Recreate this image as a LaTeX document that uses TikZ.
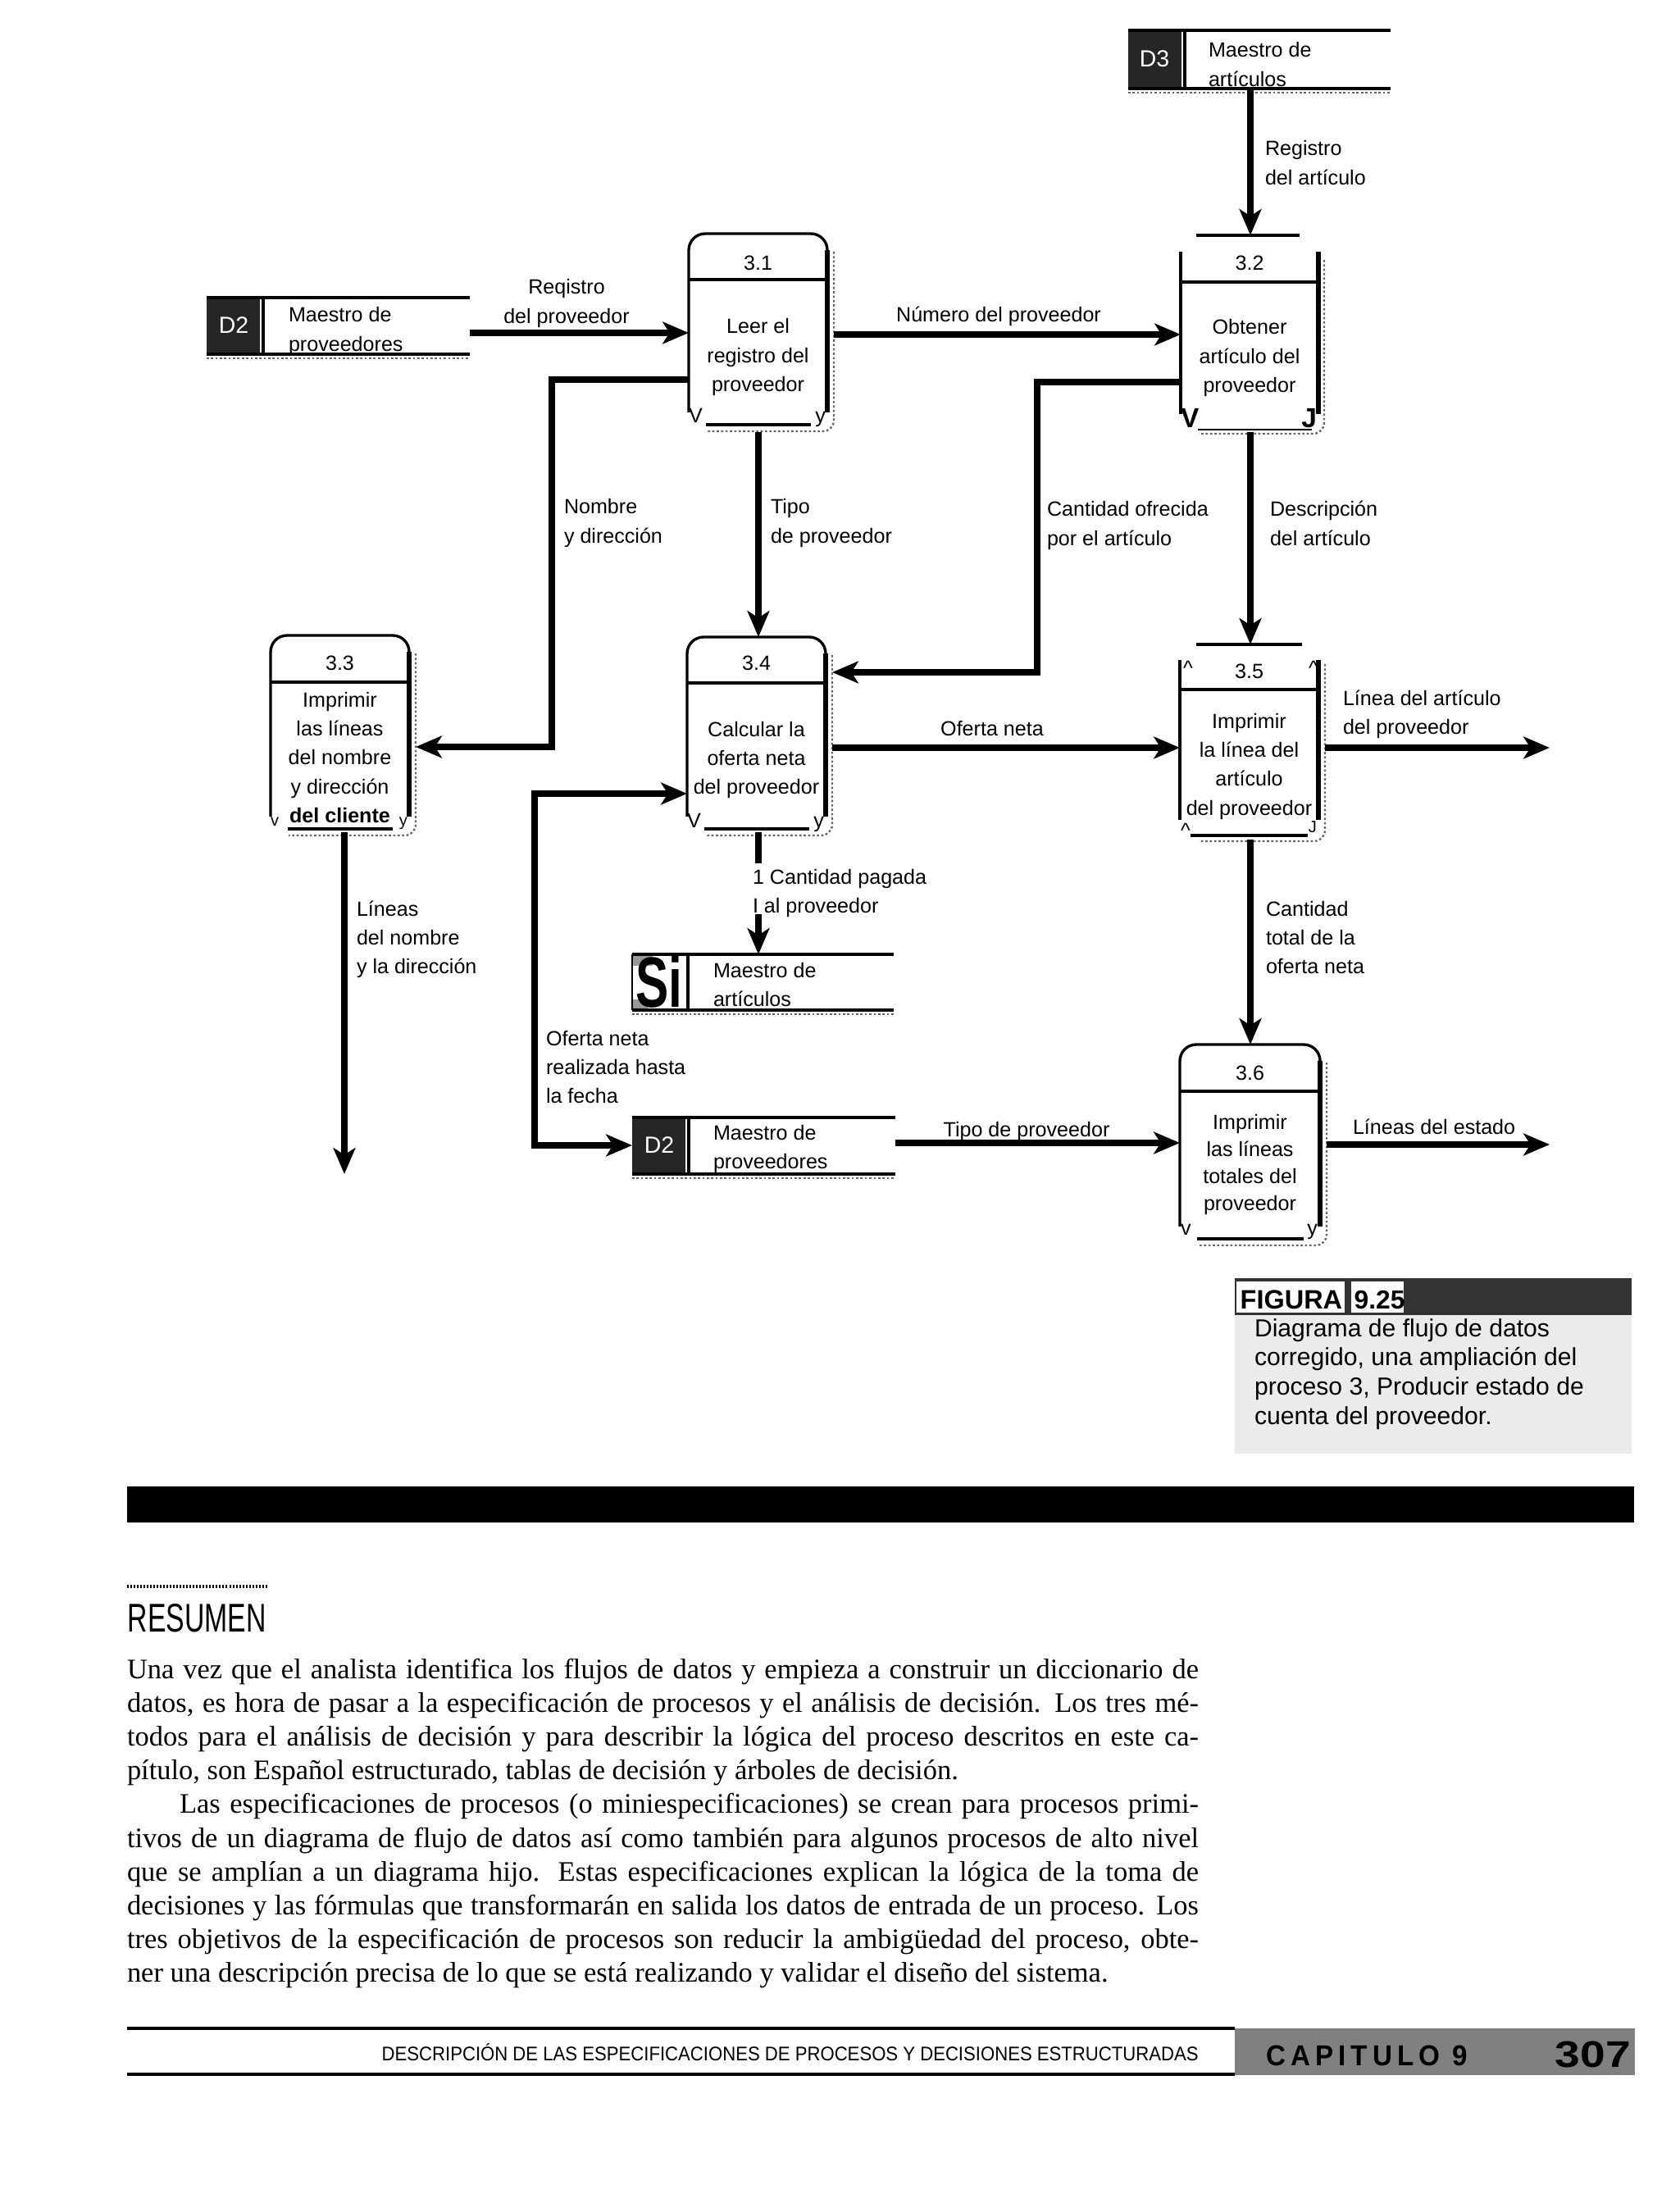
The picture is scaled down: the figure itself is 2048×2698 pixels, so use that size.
\documentclass[tikz,border=0pt]{standalone}
\usepackage{graphicx}
\usepackage{fontspec}
\setmainfont{Liberation Serif}
\setsansfont{Liberation Sans}
\newfontfamily\capsp[LetterSpace=18]{Liberation Sans}
\usetikzlibrary{arrows.meta,fit}
\newdimen\pxd \pxd=0.2988pt
\newcommand\LblL[1]{\vtop{\halign{##\hfil\cr#1\crcr}}}
\newcommand\LblC[1]{\vtop{\halign{\hfil##\hfil\cr#1\crcr}}}
\newcommand\rbox[5]{% L R T H B
  \draw[boxl, rounded corners=6pt] (#1,#5-15) -- (#1,#3) -- (#2,#3) -- (#2,#5-15);
  \draw[line width=1.7pt] (#2,#3+20) -- (#2,#5-15);
  \draw[boxl] (#1,#4) -- (#2,#4);
  \draw[boxl] (#1+21,#5) -- (#2-20,#5);
  \draw[shad, rounded corners=4pt] (#2+8,#3+22) -- (#2+8,#5+8) -- (#1+22,#5+8);}
\newcommand\dstore[4]{% L R T B
  \fill[black!85] (#1,#3) rectangle (#1+65,#4);
  \draw[line width=1.2pt] (#1,#3) -- (#2,#3);
  \draw[line width=1.2pt] (#1,#4) -- (#2,#4);
  \draw[line width=1.4pt] (#1+69,#3) -- (#1+69,#4);
  \draw[shad] (#1,#4+5) -- (#2,#4+5);}
\begin{document}
\begin{tikzpicture}[x=0.2988pt, y=-0.2988pt,
  flow/.style={line width=2.2pt, -{Stealth[length=9.5pt,width=8pt,inset=2.5pt]}},
  flowtwo/.style={line width=2.2pt, {Stealth[length=9.5pt,width=8pt,inset=2.5pt]}-{Stealth[length=9.5pt,width=8pt,inset=2.5pt]}},
  plainflow/.style={line width=2.2pt},
  boxl/.style={line width=1pt},
  shad/.style={line width=0.7pt, black!60, dash pattern=on 0.8pt off 0.8pt},
  lbl/.style={font=\fontsize{7.5}{10.6}\selectfont\sffamily, inner sep=0, outer sep=0},
  glyph/.style={font=\fontsize{7.5}{9}\selectfont\sffamily, inner sep=0, outer sep=0},
  reg/.style={inner sep=0, outer sep=0},
  body/.style={font=\fontsize{10.3}{12.3}\selectfont, inner sep=0, outer sep=0, anchor=base west}]
\useasboundingbox (0,0) rectangle (2048,2698);
\fill[white] (0,0) rectangle (2048,2698);

% ---------- helper coordinates ----------
\coordinate (v1525) at (1525,0);
\coordinate (v925) at (925,0);
\coordinate (v673) at (673,0);
\coordinate (v1265) at (1265,0);
\coordinate (v420) at (420,0);
\coordinate (v652) at (652,0);
\coordinate (h406) at (0,406);
\coordinate (h408) at (0,408);
\coordinate (h463) at (0,463);
\coordinate (h466) at (0,466);
\coordinate (h911) at (0,911);
\coordinate (h820) at (0,820);
\coordinate (h912) at (0,912);
\coordinate (h968) at (0,968);
\coordinate (h1053) at (0,1053);
\coordinate (h1115) at (0,1115);
\coordinate (h1397) at (0,1397);
\coordinate (h1394) at (0,1394);
\coordinate (h1396) at (0,1396);
\coordinate (out1) at (1890,912);
\coordinate (out2) at (1890,1396);
\coordinate (out3) at (420,1432);

% ---------- region nodes ----------
\node[reg, fit={(1376,37) (1696,108)}] (d3) {};
\node[reg, fit={(252,363) (573,432)}] (d2a) {};
\node[reg, fit={(771,1164) (1090,1232)}] (s1) {};
\node[reg, fit={(771,1363) (1092,1432)}] (d2b) {};
\node[reg, fit={(840,285) (1017,527)}] (p31) {};
\node[reg, fit={(1440,287) (1616,527)}] (p32) {};
\node[reg, fit={(330,775) (507,1015)}] (p33) {};
\node[reg, fit={(838,777) (1015,1015)}] (p34) {};
\node[reg, fit={(1439,786) (1616,1024)}] (p35) {};
\node[reg, fit={(1439,1274) (1618,1515)}] (p36) {};

% ---------- data stores ----------
\dstore{1376}{1696}{37}{108}
\node[font=\fontsize{8.5}{9}\selectfont\sffamily, text=white, inner sep=0] (d3id) at (1408,72) {D3};
\node[lbl, anchor=base west] (d3t) at (1474,70) {\LblL{Maestro de\cr artículos}};

\dstore{252}{573}{363}{432}
\node[font=\fontsize{8.5}{9}\selectfont\sffamily, text=white, inner sep=0] (d2aid) at (285,397) {D2};
\node[lbl, anchor=base west] (d2at) at (352,393) {\LblL{Maestro de\cr proveedores}};

\dstore{771}{1092}{1363}{1432}
\node[font=\fontsize{8.5}{9}\selectfont\sffamily, text=white, inner sep=0] (d2bid) at (804,1397) {D2};
\node[lbl, anchor=base west] (d2bt) at (870,1390) {\LblL{Maestro de\cr proveedores}};

% store "Si"
\fill[black!40] (771,1166) rectangle (796,1178);
\fill[black!40] (771,1219) rectangle (790,1230);
\draw[line width=1.2pt] (771,1164) -- (1090,1164);
\draw[line width=1.2pt] (771,1232) -- (1090,1232);
\draw[line width=0.8pt] (771,1164) -- (771,1232);
\draw[line width=1.4pt] (839,1164) -- (839,1232);
\draw[shad] (771,1237) -- (1090,1237);
\node[inner sep=0, anchor=south west] (s1id) at (775,1230) {\resizebox{57\pxd}{63\pxd}{\sffamily\bfseries Si}};
\node[lbl, anchor=base west] (s1t) at (870,1192) {\LblL{Maestro de\cr artículos}};

% ---------- process boxes ----------
\rbox{840}{1009}{285}{341}{518}
\node[lbl, anchor=base] (n31) at (924.5,330) {3.1};
\node[lbl, anchor=base] (t31) at (924.5,407) {\LblC{Leer el\cr registro del\cr proveedor}};
\node[glyph, anchor=base west] (g31a) at (840,516) {V};
\node[glyph, anchor=base east] (g31b) at (1007,516) {y};

% 3.2 (open top)
\draw[boxl] (1459,287) -- (1585,287);
\draw[boxl] (1440,307) -- (1440,505);
\draw[line width=1.8pt] (1608,307) -- (1608,505);
\draw[boxl] (1440,344) -- (1608,344);
\draw[line width=0.8pt] (1461,524) -- (1600,524);
\draw[shad, rounded corners=4pt] (1615,317) -- (1615,529) -- (1462,529);
\node[lbl, anchor=base] (n32) at (1524,330) {3.2};
\node[lbl, anchor=base] (t32) at (1524,408) {\LblC{Obtener\cr artículo del\cr proveedor}};
\node[glyph, font=\fontsize{10}{12}\selectfont\sffamily\bfseries, anchor=base west] (g32a) at (1440,522) {V};
\node[glyph, font=\fontsize{10}{12}\selectfont\sffamily\bfseries, anchor=base east] (g32b) at (1606,522) {J};

\rbox{330}{499}{775}{832}{1011}
\node[lbl, anchor=base] (n33) at (414.5,818) {3.3};
\node[lbl, anchor=base] (t33) at (414.5,862) {\LblC{Imprimir\cr las líneas\cr del nombre\cr y dirección\cr \textbf{del cliente}}};
\node[glyph, font=\fontsize{6}{7}\selectfont\sffamily, anchor=base west] (g33a) at (330,1007) {v};
\node[glyph, font=\fontsize{6}{7}\selectfont\sffamily, anchor=base east] (g33b) at (497,1007) {y};

\rbox{838}{1007}{777}{833}{1011}
\node[lbl, anchor=base] (n34) at (922.5,818) {3.4};
\node[lbl, anchor=base] (t34) at (922.5,898) {\LblC{Calcular la\cr oferta neta\cr del proveedor}};
\node[glyph, anchor=base west] (g34a) at (838,1009) {V};
\node[glyph, anchor=base east] (g34b) at (1005,1009) {y};

% 3.5 (open top)
\draw[boxl] (1459,786) -- (1588,786);
\draw[boxl] (1439,805) -- (1439,1000);
\draw[line width=1.8pt] (1608,805) -- (1608,1000);
\draw[boxl] (1439,841) -- (1608,841);
\draw[boxl] (1452,1019) -- (1595,1019);
\draw[shad, rounded corners=4pt] (1616,810) -- (1616,1026) -- (1462,1026);
\node[lbl, anchor=base] (n35) at (1523.5,827) {3.5};
\node[lbl, anchor=base] (t35) at (1523.5,888) {\LblC{Imprimir\cr la línea del\cr artículo\cr del proveedor}};
\node[glyph, anchor=north west] (g35a) at (1443,806) {\^{}};
\node[glyph, anchor=north west] (g35b) at (1596,806) {\^{}};
\node[glyph, anchor=north west] (g35c) at (1440,1004) {\^{}};
\node[glyph, font=\fontsize{6}{7}\selectfont\sffamily, anchor=base east] (g35d) at (1606,1015) {J};

\rbox{1439}{1610}{1274}{1331}{1511}
\node[lbl, anchor=base] (n36) at (1524.5,1317) {3.6};
\node[lbl, font=\fontsize{7.5}{9.9}\selectfont\sffamily, anchor=base] (t36) at (1524.5,1377) {\LblC{Imprimir\cr las líneas\cr totales del\cr proveedor}};
\node[glyph, anchor=base west] (g36a) at (1440,1506) {v};
\node[glyph, anchor=base east] (g36b) at (1607,1506) {y};

% ---------- data flows ----------
\draw[flow] (d3.south -| v1525) -- (p32.north -| v1525);
\draw[flow] (d2a.east |- h406) -- (p31.west |- h406);
\draw[flow] (p31.east |- h408) -- (p32.west |- h408);
\draw[flow] (p31.west |- h463) -- (v673 |- h463) -- (v673 |- h911) -- (p33.east |- h911);
\draw[flow] (p31.south -| v925) -- (p34.north -| v925);
\draw[flow] (p32.west |- h466) -- (v1265 |- h466) -- (v1265 |- h820) -- (p34.east |- h820);
\draw[flow] (p32.south -| v1525) -- (p35.north -| v1525);
\draw[flow] (p34.east |- h912) -- (p35.west |- h912);
\draw[flow] (p35.east |- h912) -- (out1);
\draw[flow] (p33.south -| v420) -- (out3);
\draw[plainflow] (p34.south -| v925) -- (v925 |- h1053);
\draw[flow] (v925 |- h1115) -- (s1.north -| v925);
\draw[flowtwo] (p34.west |- h968) -- (v652 |- h968) -- (v652 |- h1397) -- (d2b.west |- h1397);
\draw[flow] (d2b.east |- h1394) -- (p36.west |- h1394);
\draw[flow] (p35.south -| v1525) -- (p36.north -| v1525);
\draw[flow] (p36.east |- h1396) -- (out2);

% ---------- flow labels ----------
\node[lbl, anchor=base west] (lReg) at (1543,190) {\LblL{Registro\cr del artículo}};
\node[lbl, anchor=base] (lRegP) at (691,359) {\LblC{Reqistro\cr del proveedor}};
\node[lbl, anchor=base] (lNum) at (1218,393) {Número del proveedor};
\node[lbl, anchor=base west] (lNom) at (688,627) {\LblL{Nombre\cr y dirección}};
\node[lbl, anchor=base west] (lTipo) at (940,627) {\LblL{Tipo\cr de proveedor}};
\node[lbl, anchor=base west] (lCant) at (1277,630) {\LblL{Cantidad ofrecida\cr por el artículo}};
\node[lbl, anchor=base west] (lDesc) at (1549,630) {\LblL{Descripción\cr del artículo}};
\node[lbl, anchor=base] (lOf) at (1210,897) {Oferta neta};
\node[lbl, anchor=base west] (lLin) at (1638,860) {\LblL{Línea del artículo\cr del proveedor}};
\node[lbl, anchor=base west] (lLn) at (435,1117) {\LblL{Líneas\cr del nombre\cr y la dirección}};
\node[lbl, anchor=base west] (lPag) at (918,1078) {\LblL{1 Cantidad pagada\cr I al proveedor}};
\node[lbl, anchor=base west] (lTot) at (1544,1117) {\LblL{Cantidad\cr total de la\cr oferta neta}};
\node[lbl, anchor=base west] (lOfR) at (666,1275) {\LblL{Oferta neta\cr realizada hasta\cr la fecha}};
\node[lbl, anchor=base] (lTp) at (1252,1386) {Tipo de proveedor};
\node[lbl, anchor=base west] (lEst) at (1650,1383) {Líneas del estado};

% ---------- caption ----------
\fill[black!80] (1506,1559) rectangle (1990,1604);
\fill[black!8] (1506,1604) rectangle (1990,1773);
\fill[white] (1508,1563) rectangle (1640,1601);
\fill[white] (1648,1563) rectangle (1712,1601);
\node[inner sep=0, anchor=base west, font=\fontsize{9.7}{11}\selectfont\sffamily\bfseries] (fig1) at (1512,1596) {FIGURA};
\node[inner sep=0, anchor=base west, font=\fontsize{9.5}{11}\selectfont\sffamily\bfseries] (fig2) at (1651,1596) {9.25};
\node[lbl, font=\fontsize{9}{10.7}\selectfont\sffamily, anchor=base west] (cap) at (1530,1630) {\LblL{Diagrama de flujo de datos\cr corregido, una ampliación del\cr proceso 3, Producir estado de\cr cuenta del proveedor.}};

% ---------- black bar ----------
\fill[black] (155,1813) rectangle (1993,1857);

% ---------- summary ----------
\draw[line width=1pt, dash pattern=on 0.6pt off 0.6pt] (155,1935) -- (327,1935);
\node[inner sep=0, anchor=base west] (res) at (155,1990) {\resizebox{169\pxd}{\height}{\fontsize{14.6}{16}\selectfont\sffamily RESUMEN}};

\node[body] (b1) at (155,2047) {\makebox[1307\pxd][s]{Una vez que el analista identifica los flujos de datos y empieza a construir un diccionario de}};
\node[body] (b2) at (155,2088.2) {\makebox[1307\pxd][s]{datos, es hora de pasar a la especificación de procesos y el análisis de decisión. Los tres mé-}};
\node[body] (b3) at (155,2129.4) {\makebox[1307\pxd][s]{todos para el análisis de decisión y para describir la lógica del proceso descritos en este ca-}};
\node[body] (b4) at (155,2170.6) {pítulo, son Español estructurado, tablas de decisión y árboles de decisión.};
\node[body] (b5) at (219,2211.8) {\makebox[1243\pxd][s]{Las especificaciones de procesos (o miniespecificaciones) se crean para procesos primi-}};
\node[body] (b6) at (155,2253) {\makebox[1307\pxd][s]{tivos de un diagrama de flujo de datos así como también para algunos procesos de alto nivel}};
\node[body] (b7) at (155,2294.2) {\makebox[1307\pxd][s]{que se amplían a un diagrama hijo. Estas especificaciones explican la lógica de la toma de}};
\node[body] (b8) at (155,2335.4) {\makebox[1307\pxd][s]{decisiones y las fórmulas que transformarán en salida los datos de entrada de un proceso. Los}};
\node[body] (b9) at (155,2376.6) {\makebox[1307\pxd][s]{tres objetivos de la especificación de procesos son reducir la ambigüedad del proceso, obte-}};
\node[body] (b10) at (155,2417.8) {ner una descripción precisa de lo que se está realizando y validar el diseño del sistema.};

% ---------- footer ----------
\draw[line width=1pt] (155,2474) -- (1506,2474);
\draw[line width=1.3pt] (155,2530) -- (1506,2530);
\node[inner sep=0, anchor=base west] (foot) at (465,2513) {\resizebox{996\pxd}{\height}{\fontsize{7.2}{8}\selectfont\sffamily DESCRIPCIÓN DE LAS ESPECIFICACIONES DE PROCESOS Y DECISIONES ESTRUCTURADAS}};
\fill[black!50] (1506,2474) rectangle (1994,2531);
\node[inner sep=0, anchor=base west] (capn) at (1544,2519) {\resizebox{245\pxd}{\height}{\fontsize{10.5}{11}\selectfont\capsp\bfseries CAPITULO 9}};
\node[inner sep=0, anchor=base west] (pgn) at (1896,2521) {\resizebox{92\pxd}{\height}{\fontsize{13.5}{14}\selectfont\sffamily\bfseries 307}};
\end{tikzpicture}
\end{document}
